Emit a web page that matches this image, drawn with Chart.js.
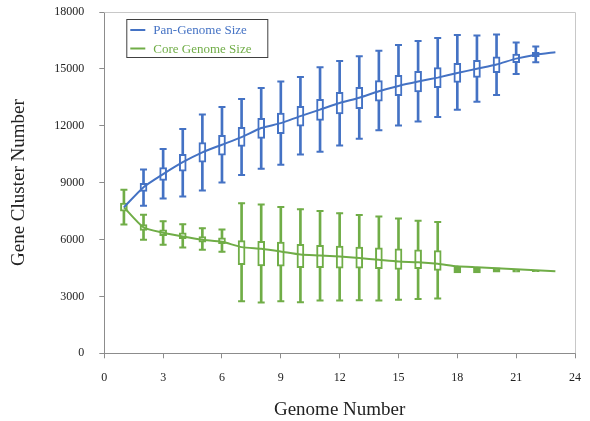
<!DOCTYPE html>
<html>
<head>
<meta charset="utf-8">
<script src="https://cdn.jsdelivr.net/npm/chart.js@4/dist/chart.umd.min.js"></script>
<style>
html,body{margin:0;padding:0;background:#fff;}
#wrap{width:590px;height:421px;}
</style>
</head>
<body>
<div id="wrap"><canvas id="c" width="590" height="421"></canvas></div>
<script>
// ---- data ----
const genomes = [1,2,3,4,5,6,7,8,9,10,11,12,13,14,15,16,17,18,19,20,21,22,23];
const xTicks = [0,3,6,9,12,15,18,21,24];
const yTicks = [0,3000,6000,9000,12000,15000,18000];

const panLabel = 'Pan-Genome Size';
const panMean = [7700,8760,9450,10080,10600,11000,11400,11880,12140,12510,12850,13200,13480,13820,14100,14330,14540,14780,15010,15230,15540,15750,15880];
const panQ3  = [null,8970,9790,10500,11110,11490,11920,12390,12670,13020,13390,13760,14030,14380,14660,14870,15070,15290,15450,15630,15780,15870,null];
const panQ1  = [null,8540,9120,9610,10080,10450,10910,11330,11580,11980,12280,12620,12900,13300,13590,13780,14010,14290,14550,14800,15330,15650,null];
const panMax = [null,9700,10770,11830,12600,12990,13410,13990,14330,14570,15080,15420,15660,15960,16260,16470,16630,16790,16760,16810,16390,16180,null];
const panMin = [null,7780,8170,8270,8590,9010,9400,9730,9950,10490,10630,10960,11320,11760,12020,12220,12460,12850,13270,13620,14730,15350,null];

const coreLabel = 'Core Genome Size';
const coreMean = [7700,6640,6360,6160,5990,5880,5600,5510,5370,5210,5160,5100,5020,4930,4840,4800,4720,4590,4540,4490,4430,4380,4330];
const coreQ3  = [7920,6790,6510,6360,6160,6090,5950,5910,5860,5750,5690,5650,5600,5560,5510,5460,5420,4540,4540,4510,4420,4370,null];
const coreQ1  = [7500,6480,6210,6040,5860,5780,4680,4610,4590,4520,4520,4490,4490,4460,4430,4460,4370,4240,4240,4280,4280,4300,null];
const coreMax = [8630,7310,6970,6810,6600,6530,7920,7850,7710,7600,7500,7390,7290,7220,7110,6990,6920,null,null,null,null,null,null];
const coreMin = [6790,5990,5720,5580,5460,5350,2750,2680,2750,2690,2780,2780,2800,2780,2820,2870,2890,null,null,null,null,null,null];

// ---- style ----
const BLUE = '#4472C4';
const GREEN = '#70AD47';
const FONT = '"Liberation Serif", "Times New Roman", serif';

function rangeData(lo, hi) {
  const out = [];
  genomes.forEach((g, i) => { if (lo[i] != null && hi[i] != null) out.push({x: g, y: [lo[i], hi[i]]}); });
  return out;
}
function capData(a, b) {
  const out = [];
  genomes.forEach((g, i) => {
    if (a[i] != null) out.push({x: g, y: a[i]});
    if (b[i] != null) out.push({x: g, y: b[i]});
  });
  return out;
}
function lineData(v) { return genomes.map((g, i) => ({x: g, y: v[i]})); }

function whiskerSet(lo, hi, color) {
  return {type: 'bar', data: rangeData(lo, hi), backgroundColor: color, borderWidth: 0,
          barThickness: 2, grouped: false, order: 4};
}
function capSet(lo, hi, color) {
  return {type: 'scatter', data: capData(lo, hi), pointStyle: 'line', pointRadius: 3.5,
          pointHoverRadius: 3.5, borderColor: color, borderWidth: 2, backgroundColor: color, order: 3};
}
function boxSet(q1, q3, maxArr, color) {
  return {type: 'bar', data: rangeData(q1, q3), barThickness: 7, grouped: false,
          borderColor: color, borderWidth: 2, borderSkipped: false,
          backgroundColor: (ctx) => {
            const raw = ctx.raw; if (!raw) return '#fff';
            const i = genomes.indexOf(raw.x);
            return maxArr[i] == null ? color : '#ffffff';
          }, order: 2};
}
function meanSet(label, v, color) {
  return {type: 'line', label: label, data: lineData(v), borderColor: color, backgroundColor: color,
          borderWidth: 2, pointRadius: 0, tension: 0.2, order: 1, isLegend: true};
}

const frame = {
  id: 'frame',
  beforeDatasetsDraw(chart) {
    const a = chart.chartArea, ctx = chart.ctx;
    ctx.save();
    ctx.strokeStyle = '#c8c8c8';
    ctx.lineWidth = 1;
    ctx.beginPath();
    ctx.moveTo(a.left, a.top + 0.5); ctx.lineTo(a.right + 0.5, a.top + 0.5); ctx.lineTo(a.right + 0.5, a.bottom);
    ctx.stroke();
    ctx.restore();
  },
  afterDraw(chart) {
    const a = chart.chartArea, ctx = chart.ctx;
    const items = chart.data.datasets.filter(d => d.isLegend);
    const bx = a.left + 22, by = a.top + 7, bw = 141, bh = 38;
    ctx.save();
    ctx.fillStyle = '#fff';
    ctx.fillRect(bx, by, bw, bh);
    ctx.strokeStyle = '#404040';
    ctx.lineWidth = 1;
    ctx.strokeRect(bx + 0.5, by + 0.5, bw, bh);
    ctx.font = '13px ' + FONT;
    ctx.textBaseline = 'middle';
    items.forEach((d, k) => {
      const y = by + 11 + k * 18.5;
      ctx.strokeStyle = d.borderColor;
      ctx.lineWidth = 2;
      ctx.beginPath(); ctx.moveTo(bx + 4, y); ctx.lineTo(bx + 19, y); ctx.stroke();
      ctx.fillStyle = d.borderColor;
      ctx.fillText(d.label, bx + 27, y + 1);
    });
    ctx.restore();
  }
};

new Chart(document.getElementById('c'), {
  type: 'bar',
  data: {
    datasets: [
      meanSet(panLabel, panMean, BLUE),
      meanSet(coreLabel, coreMean, GREEN),
      boxSet(panQ1, panQ3, panMax, BLUE),
      boxSet(coreQ1, coreQ3, coreMax, GREEN),
      capSet(panMin, panMax, BLUE),
      capSet(coreMin, coreMax, GREEN),
      whiskerSet(panMin, panMax, BLUE),
      whiskerSet(coreMin, coreMax, GREEN)
    ]
  },
  options: {
    responsive: false,
    devicePixelRatio: 1,
    animation: false,
    layout: {padding: {left: 4, right: 15, top: 12, bottom: 0}},
    plugins: {legend: {display: false}, tooltip: {enabled: false}},
    scales: {
      x: {
        type: 'linear', min: 0, max: 24, offset: false,
        afterBuildTicks: (s) => { s.ticks = xTicks.map(v => ({value: v})); },
        afterFit: (s) => { s.paddingRight = 6; s.paddingLeft = 6; },
        ticks: {color: '#222', font: {family: FONT, size: 12}, padding: 12, maxRotation: 0,
                callback: (v) => String(v)},
        grid: {drawOnChartArea: false, drawTicks: true, tickLength: 5, color: '#8c8c8c', offset: false},
        border: {display: true, color: '#8c8c8c'},
        title: {display: true, text: 'Genome Number', color: '#222',
                font: {family: FONT, size: 19, lineHeight: 1.2}, padding: {top: 1.5, bottom: 0}}
      },
      y: {
        type: 'linear', min: 0, max: 18000,
        afterBuildTicks: (s) => { s.ticks = yTicks.map(v => ({value: v})); },
        afterFit: (s) => { s.paddingTop = 7; s.paddingBottom = 7; },
        ticks: {color: '#222', font: {family: FONT, size: 12}, padding: 15,
                callback: (v) => String(v)},
        grid: {drawOnChartArea: false, drawTicks: true, tickLength: 5, color: '#8c8c8c'},
        border: {display: true, color: '#8c8c8c'},
        title: {display: true, text: 'Gene Cluster Number', color: '#222',
                font: {family: FONT, size: 19, lineHeight: 1.2}, padding: {top: 4, bottom: 8.5}}
      }
    }
  },
  plugins: [frame]
});
</script>
</body>
</html>
